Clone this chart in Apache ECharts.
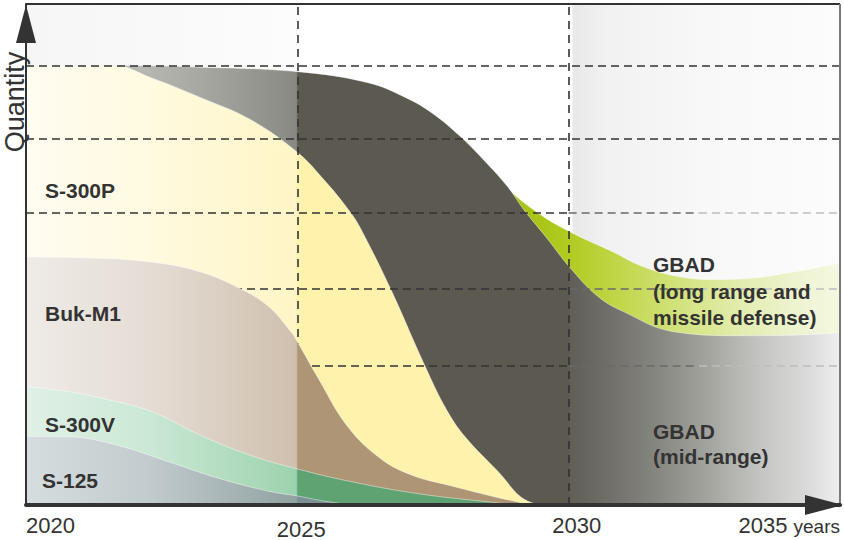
<!DOCTYPE html>
<html>
<head>
<meta charset="utf-8">
<script src="https://cdn.jsdelivr.net/npm/echarts@6/dist/echarts.min.js"></script>
<style>
html,body{margin:0;padding:0;background:#ffffff;}
#chart{width:844px;height:540px;}
</style>
</head>
<body>
<div id="chart"></div>
<script>
// ---- data (years on x, relative quantity 0-100 on y) ----
const tickYears = [2020, 2025, 2030, 2035];
const tickLabels = ['2020', '2025', '2030', '2035'];
const axisUnit = 'years';
const yAxisTitle = 'Quantity';
const gridValues = [87.7, 73.2, 58.4, 43.1, 27.8];
const gridYears = [2025, 2030];

const seriesNames = ['GBAD (long range and missile defense)', 'GBAD (mid-range)', 'S-300P', 'Buk-M1', 'S-300V', 'S-125'];

const gbadLongRange = [[2020,85.0],[2024,84.6],[2026.3,82.5],[2027.5,76.5],[2028.37,68.6],[2028.74,64.4],[2029.42,58.4],[2030.03,54.5],[2030.82,50.5],[2031.32,47.8],[2031.93,45.8],[2032.6,45.0],[2033.16,45.1],[2034.08,46.4],[2035,48.3]];
const gbadMidRange = [[2020,87.7],[2021.6,87.7],[2023.2,87.4],[2025,86.5],[2026.3,84.3],[2027.0,81.3],[2027.5,78.1],[2028.0,73.6],[2028.37,69.6],[2028.87,63.6],[2029.17,59.0],[2029.61,53.1],[2030,47.7],[2030.53,41.7],[2031.01,38.6],[2031.93,34.6],[2033.16,33.8],[2034.08,33.9],[2035,34.4]];
const s300p = [[2020,87.7],[2021.6,87.7],[2022.3,85.3],[2023.22,81.3],[2024.14,76.9],[2025,70.4],[2025.5,64.8],[2025.98,58.4],[2026.17,55.1],[2026.72,43.1],[2027.35,27.8],[2027.75,19.0],[2028.1,13.5],[2028.69,6.8],[2029.24,0.8],[2029.7,0],[2035,0]];
const bukM1 = [[2020,49.5],[2021.2,49.3],[2022.3,48.5],[2023.22,46.5],[2023.96,43.1],[2024.45,39.8],[2024.88,34.6],[2025,32.6],[2025.39,25.2],[2025.93,15.6],[2026.53,9.3],[2027.1,6.0],[2027.77,4.0],[2028.98,0.8],[2029.5,0],[2035,0]];
const s300v = [[2020,23.7],[2020.8,22.6],[2021.4,21.3],[2022.3,18.7],[2023.22,13.9],[2024.14,9.9],[2025,7.2],[2025.93,4.8],[2027.14,2.4],[2028.37,0.8],[2029.3,0],[2035,0]];
const s125 = [[2020,13.7],[2020.8,13.6],[2021.69,11.9],[2022.61,8.7],[2023.53,5.4],[2024.45,2.8],[2025,1.8],[2025.6,0.6],[2026.2,0],[2035,0]];

// ---- styling helpers ----
function hg(stops) {
  return new echarts.graphic.LinearGradient(0, 0, 1, 0, stops.map(s => ({offset: s[0], color: s[1]})));
}
const FONT = '"Liberation Sans", Arial, Helvetica, sans-serif';
const edge = {width: 1, color: 'rgba(255,255,255,0.45)'};

function areaSeries(name, data, fill, z) {
  return {
    name: name, type: 'line', data: data, smooth: 0.4,
    showSymbol: false, symbol: 'none', silent: true, z: z,
    lineStyle: edge,
    areaStyle: {color: fill, opacity: 1}
  };
}

const fills = {
  long: hg([[0,'#a8c416'],[0.62,'#a8c416'],[0.667,'#b1cb22'],[0.72,'#bfd544'],[0.8,'#d2e27c'],[0.88,'#e3edb0'],[0.95,'#eef4d2'],[1,'#f4f8e2']]),
  mid: hg([[0,'#cacac4'],[0.117,'#bdbdb7'],[0.215,'#a8a8a2'],[0.332,'#898983'],[0.334,'#5b5950'],[0.666,'#5b5950'],[0.668,'#5f5e57'],[0.72,'#71706a'],[0.779,'#888882'],[0.84,'#a5a5a0'],[0.902,'#c4c4c2'],[0.963,'#dcdcdc'],[1,'#eeeeee']]),
  p: hg([[0,'#fffcf1'],[0.15,'#fffae0'],[0.332,'#fff5c6'],[0.334,'#fff2ad'],[1,'#fff2ad']]),
  buk: hg([[0,'#efebe7'],[0.15,'#e5ddd5'],[0.332,'#cfc0ae'],[0.334,'#ae9575'],[1,'#ae9575']]),
  v: hg([[0,'#e0f0e6'],[0.15,'#cbe8d5'],[0.332,'#9dd2ae'],[0.334,'#5ea371'],[1,'#5ea371']]),
  s125: hg([[0,'#d6dddf'],[0.15,'#c2cbcd'],[0.332,'#91a2a3'],[0.334,'#7a9293'],[1,'#7a9293']])
};

const dashCol = '#333333';
const markLineData = [];
gridValues.forEach((v, i) => {
  if (i < 2) {
    markLineData.push([{coord: [2020, v], lineStyle: {type: [8,5], width: 1.6, color: dashCol}}, {coord: [2035, v]}]);
  } else {
    markLineData.push([{coord: [2020, v], lineStyle: {type: [8,5], width: 1.6, color: dashCol}}, {coord: [2030, v]}]);
    markLineData.push([{coord: [2030, v], lineStyle: {type: [8,5], width: 1.6, color: '#6a6a6a'}}, {coord: [2032.4, v]}]);
    markLineData.push([{coord: [2032.4, v], lineStyle: {type: [8,5], width: 1.6, color: '#bdbdbd'}}, {coord: [2035, v]}]);
  }
});
gridYears.forEach(y => {
  markLineData.push([{coord: [y, 0], lineStyle: {type: [8,6], width: 1.6, color: dashCol}}, {coord: [y, 100]}]);
});
markLineData.push([{coord: [2020, 100], lineStyle: {type: 'solid', width: 2, color: '#333333'}}, {coord: [2035, 100]}]);
markLineData.push([{coord: [2035, 0], lineStyle: {type: 'solid', width: 2, color: '#7a7a7a'}}, {coord: [2035, 100]}]);

const option = {
  animation: false,
  backgroundColor: '#ffffff',
  grid: {left: 26, right: 4, top: 4, bottom: 33, containLabel: false},
  xAxis: {
    type: 'value', min: 2020, max: 2035, interval: 5, z: 30,
    axisLine: {show: true, lineStyle: {color: '#333333', width: 4}, symbol: ['none', 'triangle'], symbolSize: [20, 38], symbolOffset: [0, -16]},
    axisTick: {show: false},
    splitLine: {show: false},
    axisLabel: {
      show: true, margin: 9, color: '#333333', fontFamily: FONT, fontSize: 22,
      alignMinLabel: 'left', alignMaxLabel: 'right',
      formatter: function (v) {
        const i = tickYears.indexOf(v);
        if (i < 0) return '';
        if (i === 1) return '{b|' + tickLabels[i] + '}';
        if (i === 2) return '{c|' + tickLabels[i] + '}';
        if (i === tickYears.length - 1) return '{a|' + tickLabels[i] + '} {u|' + axisUnit + '}';
        return '{a|' + tickLabels[i] + '}';
      },
      rich: {
        a: {fontSize: 22, fontFamily: FONT, color: '#333333'},
        b: {fontSize: 22, fontFamily: FONT, color: '#333333', padding: [4, 0, 0, 8]},
        c: {fontSize: 22, fontFamily: FONT, color: '#333333', padding: [0, 0, 0, 16]},
        u: {fontSize: 19, fontFamily: FONT, color: '#333333', padding: [3, 0, 0, 0]}
      }
    }
  },
  yAxis: {
    type: 'value', min: 0, max: 100, z: 30,
    axisLine: {show: true, lineStyle: {color: '#333333', width: 2}, symbol: ['none', 'triangle'], symbolSize: [20, 38], symbolOffset: [0, -20]},
    axisTick: {show: false},
    splitLine: {show: false},
    axisLabel: {show: false}
  },
  graphic: [
    {type: 'text', x: 15, y: 102, rotation: Math.PI / 2, z: 100,
      style: {text: yAxisTitle, fontFamily: FONT, fontSize: 27, fill: '#333333', align: 'center', verticalAlign: 'middle'}},
    {type: 'text', x: 45, y: 190, z: 100, style: {text: seriesNames[2], fontFamily: FONT, fontSize: 21, fontWeight: 'bold', fill: '#333333', verticalAlign: 'middle'}},
    {type: 'text', x: 45, y: 313, z: 100, style: {text: seriesNames[3], fontFamily: FONT, fontSize: 21, fontWeight: 'bold', fill: '#333333', verticalAlign: 'middle'}},
    {type: 'text', x: 45, y: 424, z: 100, style: {text: seriesNames[4], fontFamily: FONT, fontSize: 21, fontWeight: 'bold', fill: '#333333', verticalAlign: 'middle'}},
    {type: 'text', x: 42, y: 480, z: 100, style: {text: seriesNames[5], fontFamily: FONT, fontSize: 21, fontWeight: 'bold', fill: '#333333', verticalAlign: 'middle'}},
    {type: 'text', x: 653, y: 291, z: 100, style: {text: 'GBAD\n(long range and\nmissile defense)', fontFamily: FONT, fontSize: 21, fontWeight: 'bold', fill: '#333333', verticalAlign: 'middle', lineHeight: 26.5}},
    {type: 'text', x: 653, y: 444, z: 100, style: {text: 'GBAD\n(mid-range)', fontFamily: FONT, fontSize: 21, fontWeight: 'bold', fill: '#333333', verticalAlign: 'middle', lineHeight: 25}}
  ],
  series: [
    {
      name: 'background', type: 'line', data: [], z: 1, silent: true,
      markArea: {
        silent: true,
        data: [
          [{xAxis: 2020, itemStyle: {color: hg([[0,'#f6f6f6'],[1,'#fcfcfc']])}}, {xAxis: 2025}],
          [{xAxis: 2030.07, itemStyle: {color: hg([[0,'#e8e8e8'],[0.12,'#f1f1f1'],[0.5,'#f8f8f8'],[1,'#fcfcfc']])}}, {xAxis: 2035}]
        ]
      }
    },
    areaSeries(seriesNames[0], gbadLongRange, fills.long, 2),
    areaSeries(seriesNames[1], gbadMidRange, fills.mid, 3),
    areaSeries(seriesNames[2], s300p, fills.p, 4),
    areaSeries(seriesNames[3], bukM1, fills.buk, 5),
    areaSeries(seriesNames[4], s300v, fills.v, 6),
    areaSeries(seriesNames[5], s125, fills.s125, 7),
    {
      name: 'grid', type: 'line', data: [], z: 10, silent: true,
      markLine: {silent: true, symbol: ['none', 'none'], label: {show: false}, data: markLineData}
    }
  ]
};

const chart = echarts.init(document.getElementById('chart'), null, {renderer: 'svg', width: 844, height: 540});
chart.setOption(option);
</script>
</body>
</html>
